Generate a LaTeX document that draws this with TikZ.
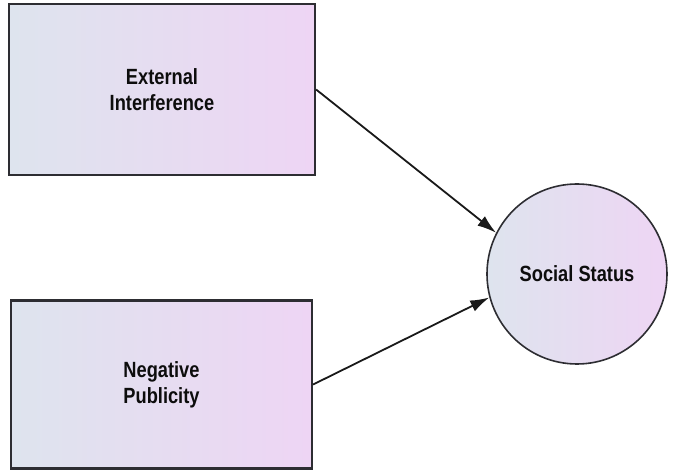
\documentclass[tikz,border=0pt]{standalone}
\usepackage{fontspec}
\setmainfont{Liberation Sans}[FakeStretch=0.83]
\usetikzlibrary{arrows.meta}
\definecolor{shadeL}{RGB}{222,228,238}
\definecolor{shadeR}{RGB}{238,213,244}
\definecolor{edge}{RGB}{45,45,50}
\begin{document}
\begin{tikzpicture}[x=1pt,y=-1pt,
  every node/.style={font=\fontsize{22}{26}\selectfont\bfseries, text=black!95, align=center, inner sep=0pt},
  factor/.style={rectangle, draw=edge, line width=2.2pt, left color=shadeL, right color=shadeR},
  outcome/.style={circle, draw=edge, line width=1.6pt, left color=shadeL, right color=shadeR, minimum size=180pt},
  link/.style={draw=black!90, line width=1.8pt, -{Latex[length=19pt,width=12pt]}}]
  \useasboundingbox (0,0) rectangle (673,473);
  \node[factor, minimum width=306pt, minimum height=171pt] (ext) at (162,89.5) {External\\Interference};
  \node[factor, minimum width=301pt, minimum height=168pt] (neg) at (161.5,384.5) {Negative\\Publicity};
  \node[outcome] (soc) at (577,274) {Social Status};
  \draw[link] (ext.east) -- (soc.153);
  \draw[link] (neg.east) -- (soc.195);
\end{tikzpicture}
\end{document}
